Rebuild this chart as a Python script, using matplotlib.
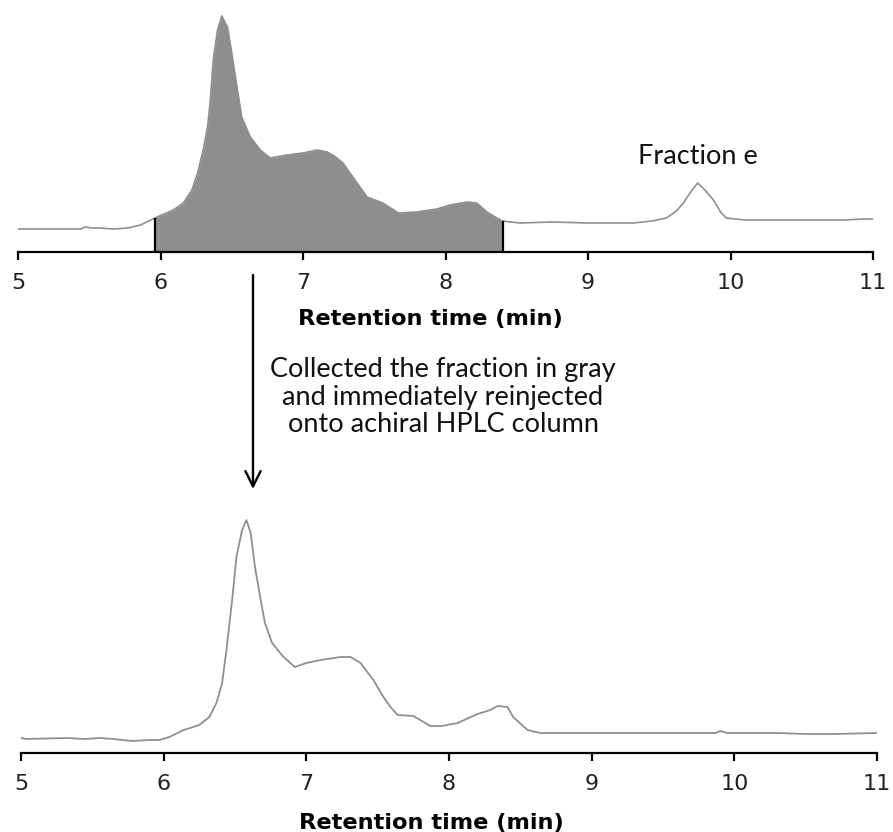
import numpy as np
import matplotlib
matplotlib.use("Agg")
import matplotlib.pyplot as plt
from matplotlib.patches import FancyArrowPatch

# ---- data ----
# chiral run (top): retention time (min) and detector signal (arbitrary units)
top_time = [5.00, 5.30, 5.44, 5.47, 5.52, 5.57, 5.67, 5.77, 5.86, 5.96, 6.09, 6.16,
            6.22, 6.26, 6.30, 6.33, 6.35, 6.37, 6.40, 6.43, 6.47, 6.50, 6.54, 6.57,
            6.63, 6.70, 6.77, 6.89, 7.00, 7.10, 7.17, 7.22, 7.28, 7.38, 7.45, 7.56,
            7.67, 7.80, 7.94, 8.03, 8.15, 8.22, 8.29, 8.36, 8.40, 8.52, 8.75, 9.00,
            9.32, 9.45, 9.55, 9.62, 9.67, 9.72, 9.77, 9.82, 9.88, 9.93, 9.97, 10.10,
            10.50, 10.80, 10.93, 11.00]
top_signal = [23, 23, 23, 25, 24, 24, 23, 24, 27, 34, 42, 49,
              62, 79, 102, 125, 152, 192, 222, 236, 225, 199, 162, 135,
              115, 102, 94, 97, 99, 102, 100, 96, 89, 69, 55, 49,
              39, 40, 43, 47, 50, 49, 40, 34, 31, 29, 30, 29,
              29, 31, 34, 41, 49, 60, 69, 62, 52, 40, 34, 32,
              32, 32, 33, 33]
fraction_start = 5.96
fraction_end = 8.40
fraction_label = "Fraction e"

# achiral re-injection (bottom)
bot_time = [5.00, 5.04, 5.32, 5.45, 5.55, 5.65, 5.78, 5.90, 5.97, 6.04, 6.14, 6.25,
            6.32, 6.37, 6.41, 6.44, 6.48, 6.51, 6.55, 6.58, 6.61, 6.64, 6.68, 6.71,
            6.76, 6.84, 6.92, 7.00, 7.10, 7.24, 7.31, 7.38, 7.47, 7.54, 7.59, 7.64,
            7.75, 7.87, 7.95, 8.06, 8.20, 8.29, 8.34, 8.41, 8.45, 8.55, 8.64, 9.00,
            9.50, 9.87, 9.90, 9.95, 10.30, 10.50, 10.70, 11.00]
bot_signal = [15, 14, 15, 14, 15, 14, 12, 13, 13, 16, 23, 28,
              36, 50, 70, 103, 153, 196, 223, 233, 220, 186, 153, 130,
              110, 96, 86, 90, 93, 96, 96, 90, 73, 56, 46, 38,
              37, 27, 27, 30, 39, 43, 47, 46, 36, 23, 20, 20,
              20, 20, 22, 20, 20, 19, 19, 20]

xticks = [5, 6, 7, 8, 9, 10, 11]
xlabel = "Retention time (min)"
note_lines = ["Collected the fraction in gray",
              "and immediately reinjected",
              "onto achiral HPLC column"]

# ---- figure ----
W, H = 893, 832
fig = plt.figure(figsize=(W / 100, H / 100), dpi=100)

line_col = "#8f8f8f"
fill_col = "#8e8e8e"
text_font = ["Lato", "DejaVu Sans"]

def px_axes(left, right, y_axis, y_top):
    return fig.add_axes([left / W, 1 - y_axis / H, (right - left) / W, (y_axis - y_top) / H])

def style(ax, labelpad, label_x):
    for s in ("left", "right", "top"):
        ax.spines[s].set_visible(False)
    ax.spines["bottom"].set_linewidth(1.6)
    ax.set_yticks([])
    ax.set_xlim(5, 11)
    ax.set_xticks(xticks)
    ax.set_xticklabels([str(v) for v in xticks])
    ax.tick_params(axis="x", direction="out", length=6, width=1.6, pad=9,
                   labelsize=16, labelcolor="#222222")
    for lab in ax.get_xticklabels():
        lab.set_family("DejaVu Sans")
    ax.set_xlabel(xlabel, fontsize=16.2, fontweight="bold", family="DejaVu Sans",
                  labelpad=labelpad)
    ax.xaxis.label.set_x(label_x)
    ax.patch.set_alpha(0)

# top panel
ax1 = px_axes(18, 873, 252, 0)
t1 = np.array(top_time)
s1 = np.array(top_signal)
ax1.set_ylim(0, 252)
mask = (t1 >= fraction_start) & (t1 <= fraction_end)
ax1.fill_between(t1, 0, s1, where=mask, color=fill_col, linewidth=0)
ax1.plot(t1, s1, color=line_col, lw=1.2)
ax1.vlines([fraction_start, fraction_end], 0,
           [np.interp(fraction_start, t1, s1), np.interp(fraction_end, t1, s1)],
           color="black", lw=1.6)
ax1.text(9.77, 95, fraction_label, ha="center", va="center", fontsize=19.5,
         family=text_font, color="#111111")
style(ax1, 12, 0.482)

# bottom panel
ax2 = px_axes(21, 877, 753, 500)
ax2.set_ylim(0, 253)
ax2.plot(bot_time, bot_signal, color=line_col, lw=1.3)
style(ax2, 14, 0.479)

# arrow and note
fig.patches.append(FancyArrowPatch(
    (253 / W, 1 - 275 / H), (253 / W, 1 - 489 / H), transform=fig.transFigure,
    arrowstyle="->,head_length=1.1,head_width=0.55", mutation_scale=10,
    color="black", lw=1.7, shrinkA=0, shrinkB=0))
for i, line in enumerate(note_lines):
    fig.text(443 / W, 1 - (369 + 28 * i) / H, line, ha="center", va="center",
             fontsize=19.5, family=text_font, color="#111111")

fig.savefig("out.png", dpi=100, facecolor="white")
